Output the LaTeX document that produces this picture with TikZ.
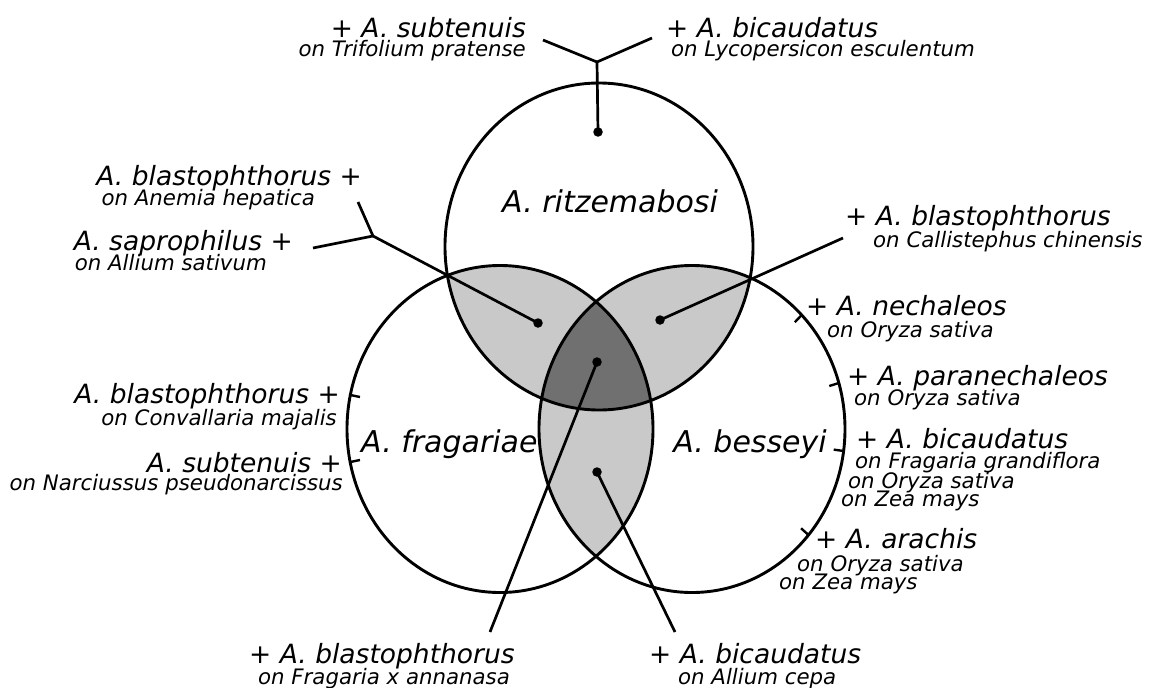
\documentclass[tikz,border=0pt]{standalone}
\usepackage{fontspec}
\setmainfont{DejaVu Sans}
\begin{document}
\begin{tikzpicture}[x=1pt,y=-1pt,
  ring/.style={line width=2.9pt},
  conn/.style={line width=2.7pt},
  tick/.style={line width=2.4pt},
  dot/.style={circle, fill=black, inner sep=0pt, minimum size=9.5pt},
  mainlbl/.style={inner sep=0pt, font=\fontsize{26.5}{30}\selectfont\itshape},
  sublbl/.style={inner sep=0pt, font=\fontsize{21.3}{24}\selectfont\itshape},
  setlbl/.style={inner sep=0pt, font=\fontsize{30}{34}\selectfont\itshape}]
\definecolor{pairgray}{RGB}{201,201,201}
\definecolor{tripgray}{RGB}{112,112,112}
\useasboundingbox (0,0) rectangle (1149,688);
\fill[white] (0,0) rectangle (1149,688);

% shaded overlaps
\begin{scope}
  \clip (599,246.5) ellipse [x radius=154, y radius=163.5];
  \fill[pairgray] (500,429) ellipse [x radius=153, y radius=163.5];
  \fill[pairgray] (692,429) ellipse [x radius=153, y radius=163.5];
\end{scope}
\begin{scope}
  \clip (500,429) ellipse [x radius=153, y radius=163.5];
  \fill[pairgray] (692,429) ellipse [x radius=153, y radius=163.5];
\end{scope}
\begin{scope}
  \clip (599,246.5) ellipse [x radius=154, y radius=163.5];
  \clip (500,429) ellipse [x radius=153, y radius=163.5];
  \fill[tripgray] (692,429) ellipse [x radius=153, y radius=163.5];
\end{scope}

% circles
\draw[ring] (599,246.5) ellipse [x radius=154, y radius=163.5];
\draw[ring] (500,429) ellipse [x radius=153, y radius=163.5];
\draw[ring] (692,429) ellipse [x radius=153, y radius=163.5];

% set labels
\node[setlbl, anchor=base west] (sT) at (502,212) {A. ritzemabosi};
\node[setlbl, anchor=base west] (sL) at (361,452) {A. fragariae};
\node[setlbl, anchor=base east] (sR) at (827,452) {A. besseyi};

% dots
\node[dot] (dT) at (598,132) {};
\node[dot] (dTL) at (538,323) {};
\node[dot] (dTR) at (660,320) {};
\node[dot] (dC) at (597,362) {};
\node[dot] (dB) at (597,472) {};

% junctions and free ends
\coordinate (jT) at (597,62);
\coordinate (eT1) at (543,40);
\coordinate (eT2) at (652,38);
\coordinate (jL) at (373,236);
\coordinate (eL1) at (358,202);
\coordinate (eL2) at (313,248);
\coordinate (eR) at (843,238);
\coordinate (eB1) at (490,632);
\coordinate (eB2) at (675,632);

\draw[conn] (dT.center) -- (jT);
\draw[conn] (jT) -- (eT1);
\draw[conn] (jT) -- (eT2);
\draw[conn] (dTL.center) -- (jL);
\draw[conn] (jL) -- (eL1);
\draw[conn] (jL) -- (eL2);
\draw[conn] (dTR.center) -- (eR);
\draw[conn] (dC.center) -- (eB1);
\draw[conn] (dB.center) -- (eB2);

% ticks
\coordinate (tA1) at (350.3,395); \coordinate (tA2) at (360,397);
\coordinate (tB1) at (350.2,462); \coordinate (tB2) at (360,460);
\coordinate (tC1) at (801.7,315); \coordinate (tC2) at (794.8,322.2);
\coordinate (tD1) at (838.8,383); \coordinate (tD2) at (829.3,386);
\coordinate (tE1) at (843.6,451); \coordinate (tE2) at (833.7,449.6);
\coordinate (tF1) at (808.5,535); \coordinate (tF2) at (801.1,528.3);
\draw[tick] (tA1) -- (tA2);
\draw[tick] (tB1) -- (tB2);
\draw[tick] (tC1) -- (tC2);
\draw[tick] (tD1) -- (tD2);
\draw[tick] (tE1) -- (tE2);
\draw[tick] (tF1) -- (tF2);

% top labels
\node[mainlbl, anchor=base east] (l1) at (526,37) {+ A. subtenuis};
\node[sublbl, anchor=base east] (l1s) at (526,56) {on Trifolium pratense};
\node[mainlbl, anchor=base west] (l2) at (666,37) {+ A. bicaudatus};
\node[sublbl, anchor=base west] (l2s) at (671,56) {on Lycopersicon esculentum};

% left labels
\node[mainlbl, anchor=base east] (l3) at (362,185) {A. blastophthorus +};
\node[sublbl, anchor=base east] (l3s) at (315,205) {on Anemia hepatica};
\node[mainlbl, anchor=base east] (l4) at (293,250) {A. saprophilus +};
\node[sublbl, anchor=base east] (l4s) at (267,270) {on Allium sativum};
\node[mainlbl, anchor=base east] (l5) at (340,403) {A. blastophthorus +};
\node[sublbl, anchor=base east] (l5s) at (337,425) {on Convallaria majalis};
\node[mainlbl, anchor=base east] (l6) at (342,472) {A. subtenuis +};
\node[sublbl, anchor=base east] (l6s) at (343,490) {on Narciussus pseudonarcissus};

% right labels
\node[mainlbl, anchor=base west] (l7) at (845,225) {+ A. blastophthorus};
\node[sublbl, anchor=base west] (l7s) at (873,247) {on Callistephus chinensis};
\node[mainlbl, anchor=base west] (l8) at (806,315) {+ A. nechaleos};
\node[sublbl, anchor=base west] (l8s) at (827,337) {on Oryza sativa};
\node[mainlbl, anchor=base west] (l9) at (847,385) {+ A. paranechaleos};
\node[sublbl, anchor=base west] (l9s) at (854,405) {on Oryza sativa};
\node[mainlbl, anchor=base west] (l10) at (856,448) {+ A. bicaudatus};
\node[sublbl, anchor=base west] (l10s) at (855,468) {on Fragaria grandiflora};
\node[sublbl, anchor=base west] (l10t) at (848,488) {on Oryza sativa};
\node[sublbl, anchor=base west] (l10u) at (841,506) {on Zea mays};
\node[mainlbl, anchor=base west] (l11) at (815,548) {+ A. arachis};
\node[sublbl, anchor=base west] (l11s) at (797,571) {on Oryza sativa};
\node[sublbl, anchor=base west] (l11t) at (779,589) {on Zea mays};

% bottom labels
\node[mainlbl, anchor=base west] (l12) at (249,663) {+ A. blastophthorus};
\node[sublbl, anchor=base west] (l12s) at (258,684) {on Fragaria x annanasa};
\node[mainlbl, anchor=base west] (l13) at (649,663) {+ A. bicaudatus};
\node[sublbl, anchor=base west] (l13s) at (678,684) {on Allium cepa};
\end{tikzpicture}
\end{document}
